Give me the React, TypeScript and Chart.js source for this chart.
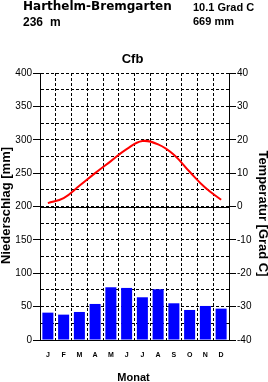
import React, { useEffect, useRef } from "react";
import { Chart, registerables } from "chart.js";

Chart.register(...registerables);

const months = ["J", "F", "M", "A", "M", "J", "J", "A", "S", "O", "N", "D"];
const precipitation = [41, 38, 42, 54, 79, 78, 64, 76, 55, 45, 51, 47];
const temperature = [1.0, 2.5, 6.2, 10.0, 13.6, 17.2, 19.6, 18.6, 15.5, 10.4, 5.6, 2.0];

const stationName = "Harthelm-Bremgarten";
const elevationNum = "236";
const elevationUnit = "m";
const meanTemp = "10.1 Grad C";
const totalPrecip = "669 mm";
const climateClass = "Cfb";
const yTitle = "Niederschlag [mm]";
const y2Title = "Temperatur [Grad C]";
const xTitle = "Monat";

const SANS = "'Liberation Sans', Arial, Helvetica, sans-serif";

const textPlugin = {
  id: "textPlugin",
  beforeDatasetsDraw(chart: any) {
    const { ctx, chartArea, scales } = chart;
    const y0 = Math.round(scales.y2.getPixelForValue(0)) + 0.5;
    ctx.save();
    ctx.strokeStyle = "#000";
    ctx.lineWidth = 1;
    ctx.setLineDash([]);
    ctx.beginPath();
    ctx.moveTo(chartArea.left, y0);
    ctx.lineTo(chartArea.right, y0);
    ctx.stroke();
    ctx.restore();
  },
  afterDraw(chart: any) {
    const { ctx } = chart;
    ctx.save();
    ctx.fillStyle = "#000";
    ctx.textBaseline = "alphabetic";
    ctx.textAlign = "left";
    ctx.font = "bold 12px 'DejaVu Sans', sans-serif";
    ctx.fillText(stationName, 23, 10);
    ctx.font = `bold 12px ${SANS}`;
    ctx.fillText(elevationNum, 23, 26);
    ctx.fillText(elevationUnit, 50, 26);
    ctx.font = `bold 11px ${SANS}`;
    ctx.fillText(meanTemp, 193, 11);
    ctx.fillText(totalPrecip, 193, 25);
    ctx.textAlign = "center";
    ctx.font = `bold 13px ${SANS}`;
    ctx.fillText(climateClass, 132.5, 63);
    ctx.font = `bold 11px ${SANS}`;
    ctx.fillText(xTitle, 133.5, 381);

    ctx.font = `bold 13px ${SANS}`;
    ctx.save();
    ctx.translate(10, 205.5);
    ctx.rotate(-Math.PI / 2);
    ctx.fillText(yTitle, 0, 0);
    ctx.restore();

    ctx.save();
    ctx.translate(258.5, 213.5);
    ctx.rotate(Math.PI / 2);
    ctx.fillText(y2Title, 0, 0);
    ctx.restore();
    ctx.restore();
  },
};

export default function App() {
  const ref = useRef<HTMLCanvasElement>(null);
  useEffect(() => {
    if (!ref.current) return;
    const chart = new Chart(ref.current, {
      type: "bar",
      data: {
        labels: months,
        datasets: [
          {
            type: "line",
            data: temperature,
            yAxisID: "y2",
            borderColor: "#ff0000",
            borderWidth: 2,
            pointRadius: 0,
            tension: 0.4,
            fill: false,
            order: 0,
          } as any,
          {
            type: "bar",
            data: precipitation,
            yAxisID: "y",
            backgroundColor: "#0000ff",
            borderWidth: 0,
            barPercentage: 0.7,
            categoryPercentage: 1.0,
            order: 1,
          },
        ],
      },
      options: {
        responsive: false,
        animation: false,
        devicePixelRatio: 1,
        layout: { padding: { top: 73, left: 0, right: 0, bottom: 0 } },
        plugins: { legend: { display: false }, tooltip: { enabled: false }, title: { display: false } },
        scales: {
          x: {
            position: "bottom",
            afterFit: (s: any) => {
              s.height = 42;
            },
            grid: {
              offset: true,
              color: "#000",
              lineWidth: 1,
              drawTicks: false,
              drawOnChartArea: true,
            },
            border: { display: true, color: "#000", width: 1, dash: [3, 2] },
            ticks: {
              color: "#000",
              font: { family: SANS, size: 7, weight: "bold" },
              padding: 11,
              maxRotation: 0,
              autoSkip: false,
            },
          },
          y: {
            position: "left",
            min: 0,
            max: 400,
            afterFit: (s: any) => {
              s.width = 40;
            },
            grid: {
              color: "#000",
              lineWidth: 1,
              drawTicks: true,
              tickLength: 7,
              tickColor: (c: any) => (c.tick && c.tick.value % 50 === 0 ? "#000" : "rgba(0,0,0,0)"),
              tickBorderDash: [],
            },
            border: { display: true, color: "#000", width: 1, dash: [3, 2] },
            ticks: {
              stepSize: 25,
              color: "#000",
              padding: 1,
              font: { family: SANS, size: 10 },
              callback: (v: any) => (Number(v) % 50 === 0 ? String(v) : ""),
              autoSkip: false,
            },
          },
          y2: {
            position: "right",
            min: -40,
            max: 40,
            afterFit: (s: any) => {
              s.width = 39;
            },
            grid: {
              drawOnChartArea: false,
              color: "#000",
              drawTicks: true,
              tickLength: 7,
              tickColor: (c: any) => (c.tick && c.tick.value % 10 === 0 ? "#000" : "rgba(0,0,0,0)"),
            },
            border: { display: true, color: "#000", width: 1 },
            ticks: {
              stepSize: 5,
              color: "#000",
              padding: 1,
              font: { family: SANS, size: 10 },
              callback: (v: any) => (Number(v) % 10 === 0 ? String(v) : ""),
              autoSkip: false,
            },
          },
        },
      },
      plugins: [textPlugin],
    });
    return () => chart.destroy();
  }, []);
  return (
    <div style={{ position: "fixed", left: 0, top: 0, width: 268, height: 382, background: "#fff" }}>
      <canvas ref={ref} width={268} height={382} style={{ display: "block" }} />
    </div>
  );
}
